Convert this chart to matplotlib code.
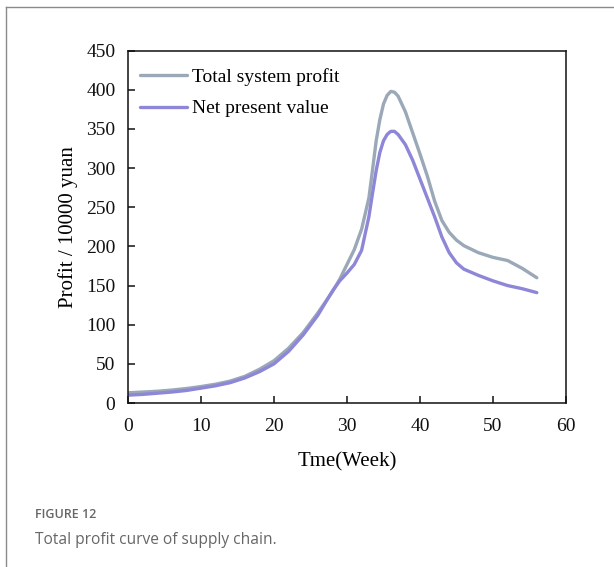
import matplotlib.pyplot as plt
from matplotlib.lines import Line2D

weeks = [0, 2, 4, 6, 8, 10, 12, 14, 16, 18, 20, 22, 24, 26, 28, 29, 30, 31, 32, 33, 33.5,
         34, 34.5, 35, 35.5, 36, 36.5, 37, 38, 39, 40, 41, 42, 43, 44, 45, 46, 48, 50, 52, 54, 56]
total_profit = [13, 14, 15, 16.5, 18.5, 21, 24, 28, 34, 43, 54, 70, 90, 115, 142, 158, 177, 196, 222, 262, 298,
                335, 362, 382, 393, 398, 397, 392, 372, 345, 318, 290, 258, 233, 218, 208, 201, 192, 186, 182, 172, 160]
net_value = [10, 11, 12.5, 14, 16, 19, 22, 26, 32, 40, 50, 66, 87, 112, 143, 156, 166, 177, 195, 238, 268,
             297, 320, 335, 343, 347, 347, 343, 330, 310, 286, 262, 238, 212, 192, 179, 171, 163, 156, 150, 146, 141]

labels = ["Total system profit", "Net present value"]
colors = ["#9aa8b8", "#8e86d6"]

fig = plt.figure(figsize=(6.14, 5.67), dpi=100)
ax = fig.add_axes([128 / 614, 1 - 403 / 567, 438 / 614, 352.3 / 567])

ax.plot(weeks, total_profit, color=colors[0], lw=2.4, label=labels[0],
        solid_capstyle="round", solid_joinstyle="round")
ax.plot(weeks, net_value, color=colors[1], lw=2.4, label=labels[1],
        solid_capstyle="round", solid_joinstyle="round")

ax.set_xlim(0, 60)
ax.set_ylim(0, 450)
ax.set_xticks(range(0, 61, 10))
ax.set_yticks(range(0, 451, 50))
serif = "Liberation Serif"
ax.tick_params(direction="in", length=5, width=1.1, labelsize=14, colors="#111")
ax.tick_params(axis="x", pad=11)
ax.tick_params(axis="y", pad=9)
for lab in ax.get_xticklabels() + ax.get_yticklabels():
    lab.set_fontfamily(serif)
for s in ax.spines.values():
    s.set_linewidth(1.1)
    s.set_color("#111")

ax.set_xlabel("Tme(Week)", fontfamily=serif, fontsize=15, labelpad=12)
ax.set_ylabel("Profit / 10000 yuan", fontfamily=serif, fontsize=15, labelpad=6)

ax.legend(loc="upper left", bbox_to_anchor=(140 / 614, 1 - 68 / 567),
          bbox_transform=fig.transFigure, frameon=False, borderpad=0, borderaxespad=0,
          prop={"family": serif, "size": 14}, handlelength=2.4, handletextpad=0.3,
          labelspacing=0.72)

# frame of the figure panel
fig.add_artist(Line2D([6 / 614, 1], [1 - 7 / 567, 1 - 7 / 567], color="#8a8a8a", lw=1.0))
fig.add_artist(Line2D([6 / 614, 6 / 614], [0, 1 - 7 / 567], color="#8a8a8a", lw=1.0))

fig.text(35 / 614, 1 - 515 / 567, "FIGURE 12", fontfamily="Open Sans", fontsize=9,
         fontweight="semibold", color="#666", va="center")
fig.text(35 / 614, 1 - 540 / 567, "Total profit curve of supply chain.", fontfamily="Open Sans",
         fontsize=11.2, color="#666", va="center")

fig.savefig("out.png", dpi=100)
